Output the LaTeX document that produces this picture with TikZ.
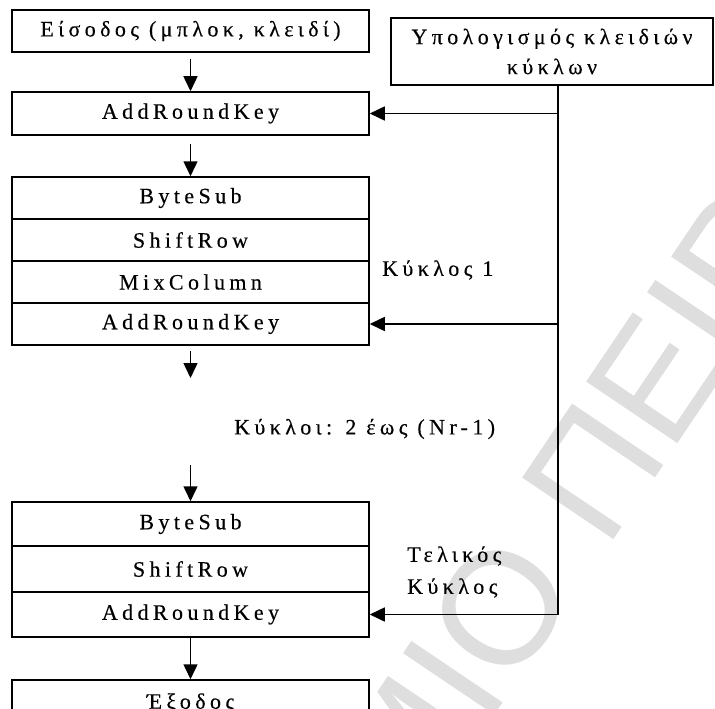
\documentclass[tikz,border=0pt]{standalone}
\usepackage{fontspec}
\setmainfont{Liberation Serif}[LetterSpace=20, FakeBold=0.3]
\newfontfamily\wmfont{Liberation Sans}
\usetikzlibrary{arrows.meta}

\tikzset{
  stage/.style={draw, line width=1.5pt, minimum width=357pt, inner sep=0pt,
    font=\fontsize{22}{26}\selectfont},
  keybox/.style={draw, line width=1.5pt, minimum width=322pt, minimum height=67pt,
    inner sep=0pt, align=center, font=\fontsize{22}{30}\selectfont},
  lbl/.style={anchor=west, inner sep=0pt, align=left, font=\fontsize{22}{32}\selectfont},
  flow/.style={line width=1.5pt, -{Triangle[length=15pt,width=14pt]}},
  trunk/.style={line width=1.5pt},
  watermark/.style={text=black!13, inner sep=0pt, rotate=56, anchor=base east,
    font=\wmfont\fontsize{160}{160}\selectfont}
}

\begin{document}
\begin{tikzpicture}[x=1pt,y=-1pt]
\useasboundingbox (0,0) rectangle (715,709);
\clip (0,0) rectangle (715,709);
\fill[white] (0,0) rectangle (715,709);

% faint diagonal watermark behind the flow chart
\node[watermark] (wm) at (512,690) {ΠΑΝΕΠΙΣΤΗΜΙ\rlap{Ο ΠΕΙΡΑΙΩΣ}};

% input and first key addition
\node[stage, minimum height=42pt] (in)   at (190.5,31)    {Είσοδος (μπλοκ, κλειδί)};
\node[stage, minimum height=43pt] (ark0) at (190.5,113.5) {AddRoundKey};

% round 1
\node[stage, minimum height=42pt] (bs1)  at (190.5,198) {ByteSub};
\node[stage, minimum height=42pt] (sr1)  at (190.5,240) {ShiftRow};
\node[stage, minimum height=42pt] (mc1)  at (190.5,282) {MixColumn};
\node[stage, minimum height=42pt] (ark1) at (190.5,324) {AddRoundKey};

% final round
\node[stage, minimum height=44pt] (bs2)  at (190.5,524)   {ByteSub};
\node[stage, minimum height=46pt] (sr2)  at (190.5,569)   {ShiftRow};
\node[stage, minimum height=45pt] (ark2) at (190.5,614.5) {AddRoundKey};

% output (runs past the lower edge)
\node[stage, minimum height=60pt] (out)  at (190.5,710) {};
\node[font=\fontsize{22}{26}\selectfont, inner sep=0pt] (outtxt) at (190.5,703) {Έξοδος};

% key schedule
\node[keybox] (keys) at (552,51.5) {Υπολογισμός κλειδιών\\κύκλων};

% labels
\node[lbl] (l1) at (382,270) {Κύκλος 1};
\node[lbl] (lm) at (234,429) {Κύκλοι: 2 έως (Nr-1)};
\node[lbl] (lf) at (407,572) {Τελικός\\Κύκλος};

% intermediate rounds, drawn as a gap between two arrows
\coordinate (gapA) at (190.5,378);
\coordinate (gapB) at (190.5,465);

% data path
\draw[flow, shorten <=6pt] (in) -- (ark0);
\draw[flow, shorten <=8pt] (ark0) -- (bs1);
\draw[flow, shorten <=5pt] (ark1.south) -- (gapA);
\draw[flow] (gapB) -- (bs2);
\draw[flow] (ark2) -- (out);

% round keys distributed from the key schedule
\coordinate (kt) at (558,85);
\coordinate (kb) at (558,614.5);
\draw[trunk] (keys.south -| kt) -- (kb);
\draw[flow] (ark0.east -| kt) -- (ark0.east);
\draw[flow] (ark1.east -| kt) -- (ark1.east);
\draw[flow, line join=miter] (kb) -- (ark2.east);
\end{tikzpicture}
\end{document}
